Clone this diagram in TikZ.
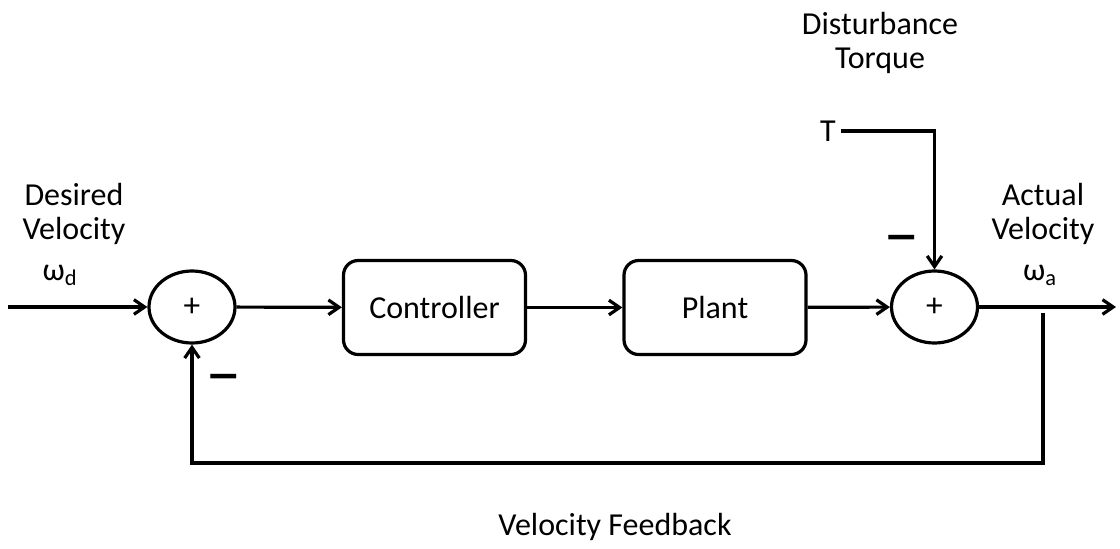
\documentclass[tikz,border=0pt]{standalone}
\usepackage{fontspec}
\setmainfont{Carlito}
\usetikzlibrary{arrows.meta,shapes.geometric}
\tikzset{
  bloc/.style={
           rectangle,
           rounded corners=11pt,
           draw=black, line width=2.4pt,
           minimum width=136.5pt,
           minimum height=70.5pt,
           font=\fontsize{24}{25}\selectfont,
           text centered},
  somme/.style={
           ellipse,
           draw=black, line width=2.4pt,
           minimum width=64.5pt,
           minimum height=54pt,
           inner sep=0pt,
           font=\fontsize{25}{25}\selectfont},
  etiq/.style={align=center, font=\fontsize{24}{25}\selectfont},
  signe/.style={inner sep=0pt, font=\fontsize{52}{52}\selectfont},
  fleche/.style={-{Straight Barb[length=8pt,width=11pt]}, line width=2.4pt}
}
\begin{document}
\begin{tikzpicture}[x=0.75pt,y=-0.75pt]
      \useasboundingbox (0,0) rectangle (1120,549);
      \node[somme] (0) at (192,307) {\raisebox{-2.5pt}{+}};
      \node[bloc] (1) at (434.5,307.5) {Controller};
      \node[bloc] (2) at (715,307.5) {Plant};
      \node[somme] (3) at (934.5,307) {\raisebox{-2.5pt}{+}};
      \coordinate (in) at (8,307);
      \coordinate (out) at (1116,307);
      \coordinate (br) at (1043,313);
      \coordinate (bl) at (1043,463);
      \node[etiq] (4) at (74,214) {Desired\\Velocity};
      \node[etiq] (5) at (60,275) {ω\textsubscript{d}};
      \node[etiq] (6) at (1043,214) {Actual\\Velocity};
      \node[etiq] (7) at (1040,275) {ω\textsubscript{a}};
      \node[etiq] (8) at (880,43) {Disturbance\\Torque};
      \node[etiq] (T) at (828,131) {T};
      \node[etiq] (9) at (615,527) {Velocity Feedback};
      \node[signe] (m1) at (224,386) {−};
      \node[signe] (m2) at (902,247) {−};
      \draw[fleche] (in) -- (0);
      \draw[fleche] (0) -- (1);
      \draw[fleche] (1) -- (2);
      \draw[fleche] (2) -- (3);
      \draw[fleche] (3) -- (out);
      \draw[fleche] (T.east) -| (3.north);
      \draw[fleche] (br) -- (bl) -| (0.south);
\end{tikzpicture}
\end{document}
